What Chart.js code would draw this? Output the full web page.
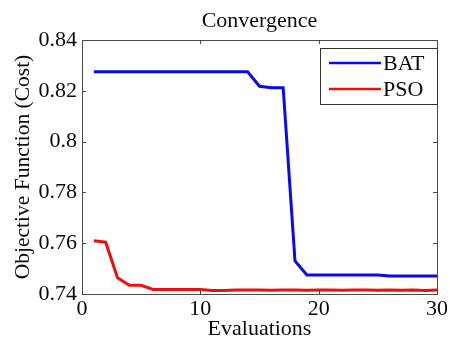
<!DOCTYPE html>
<html>
<head>
<meta charset="utf-8">
<script src="https://cdn.jsdelivr.net/npm/chart.js@4.4.1/dist/chart.umd.min.js"></script>
<style>
  html, body { margin: 0; padding: 0; background: #fff; }
  #wrap { width: 450px; height: 346px; }
</style>
</head>
<body>
<div id="wrap"><canvas id="chart" width="450" height="346"></canvas></div>
<script>
// evaluations on the x axis
const evaluations = [1, 2, 3, 4, 5, 6, 7, 8, 9, 10, 11, 12, 13, 14, 15, 16, 17, 18, 19, 20, 21, 22, 23, 24, 25, 26, 27, 28, 29, 30]

// objective function (cost) per evaluation
const batCost = [0.8275, 0.8275, 0.8275, 0.8275, 0.8275, 0.8275, 0.8275, 0.8275, 0.8275, 0.8275,
  0.8275, 0.8275, 0.8275, 0.8275, 0.8218, 0.8212, 0.8212, 0.7530, 0.7475, 0.7475,
  0.7475, 0.7475, 0.7475, 0.7475, 0.7475, 0.7471, 0.7471, 0.7471, 0.7471, 0.7471]
const psoCost = [0.7610, 0.7604, 0.7464, 0.7434, 0.7434, 0.7418, 0.7418, 0.7418, 0.7418, 0.7418,
  0.7414, 0.7414, 0.7416, 0.7416, 0.7416, 0.7415, 0.7416, 0.7416, 0.7415, 0.7416,
  0.7416, 0.7415, 0.7416, 0.7416, 0.7415, 0.7416, 0.7415, 0.7416, 0.7414, 0.7416]

const xTicks = [0, 10, 20, 30]
const yTicks = [0.74, 0.76, 0.78, 0.8, 0.82, 0.84]

const seriesNames = ["BAT", "PSO"]
const seriesColors = ["#0a0af2", "#ea1010"]
const chartTitle = "Convergence"

const serif = "'Liberation Serif', 'DejaVu Serif', serif"
Chart.defaults.font.family = serif
Chart.defaults.font.size = 22
Chart.defaults.color = "#0a0a0a"

// MATLAB style box: inward ticks on all four sides, title over the axes, legend inside
const matlabBox = {
  id: "matlabBox",
  afterDraw(chart) {
    const { ctx, chartArea: a, scales } = chart
    ctx.save()
    ctx.strokeStyle = "#4a4a4a"
    ctx.lineWidth = 1
    ctx.strokeRect(a.left + 0.5, a.top + 0.5, a.right - a.left, a.bottom - a.top)
    const len = 4
    ctx.beginPath()
    xTicks.forEach((v) => {
      const x = Math.round(scales.x.getPixelForValue(v)) + 0.5
      ctx.moveTo(x, a.bottom); ctx.lineTo(x, a.bottom - len)
      ctx.moveTo(x, a.top); ctx.lineTo(x, a.top + len)
    })
    yTicks.forEach((v) => {
      const y = Math.round(scales.y.getPixelForValue(v)) + 0.5
      ctx.moveTo(a.left, y); ctx.lineTo(a.left + len, y)
      ctx.moveTo(a.right, y); ctx.lineTo(a.right - len, y)
    })
    ctx.stroke()

    // title, centred over the axes box
    ctx.fillStyle = "#0a0a0a"
    ctx.font = "22px " + serif
    ctx.textAlign = "center"
    ctx.textBaseline = "alphabetic"
    ctx.fillText(chartTitle, (a.left + a.right) / 2, 27)

    // legend
    const bx = 320, by = 48, bw = 117, bh = 56
    ctx.fillStyle = "#fff"
    ctx.fillRect(bx, by, bw, bh)
    ctx.strokeStyle = "#333"
    ctx.strokeRect(bx + 0.5, by + 0.5, bw, bh)
    ctx.textAlign = "left"
    ctx.textBaseline = "middle"
    seriesNames.forEach((name, i) => {
      const y = by + 15 + i * 26
      ctx.strokeStyle = seriesColors[i]
      ctx.lineWidth = 2.5
      ctx.beginPath()
      ctx.moveTo(bx + 9, y); ctx.lineTo(bx + 61, y)
      ctx.stroke()
      ctx.fillStyle = "#0a0a0a"
      ctx.fillText(name, bx + 63, y + 1)
    })
    ctx.restore()
  },
}

new Chart(document.getElementById("chart"), {
  type: "line",
  data: {
    labels: evaluations,
    datasets: [
      {
        label: seriesNames[0],
        data: evaluations.map((x, i) => ({ x, y: batCost[i] })),
        borderColor: seriesColors[0],
        borderWidth: 3,
        pointRadius: 0,
        tension: 0,
      },
      {
        label: seriesNames[1],
        data: evaluations.map((x, i) => ({ x, y: psoCost[i] })),
        borderColor: seriesColors[1],
        borderWidth: 3,
        pointRadius: 0,
        tension: 0,
      },
    ],
  },
  options: {
    responsive: false,
    animation: false,
    layout: { padding: { left: 0, right: 8, top: 40, bottom: 0 } },
    plugins: {
      legend: { display: false },
      tooltip: { enabled: false },
      title: { display: false },
    },
    scales: {
      x: {
        type: "linear",
        min: 0,
        max: 30,
        afterBuildTicks: (s) => { s.ticks = xTicks.map((v) => ({ value: v })) },
        afterFit: (s) => { s.height = 52 },
        grid: { display: false, drawTicks: false },
        border: { display: false },
        ticks: { padding: 2, font: { family: serif, size: 22 } },
        title: {
          display: true,
          text: "Evaluations",
          font: { family: serif, size: 22 },
          padding: { top: 0, bottom: 4 },
        },
      },
      y: {
        min: 0.74,
        max: 0.84,
        afterBuildTicks: (s) => { s.ticks = yTicks.map((v) => ({ value: v })) },
        afterFit: (s) => { s.width = 82 },
        grid: { display: false, drawTicks: false },
        border: { display: false },
        ticks: {
          padding: 5,
          font: { family: serif, size: 22 },
          callback: (v) => String(+v.toFixed(2)),
        },
        title: {
          display: true,
          text: "Objective Function (Cost)",
          font: { family: serif, size: 21.5 },
          padding: { top: 10, bottom: 0 },
        },
      },
    },
  },
  plugins: [matlabBox],
})
</script>
</body>
</html>
